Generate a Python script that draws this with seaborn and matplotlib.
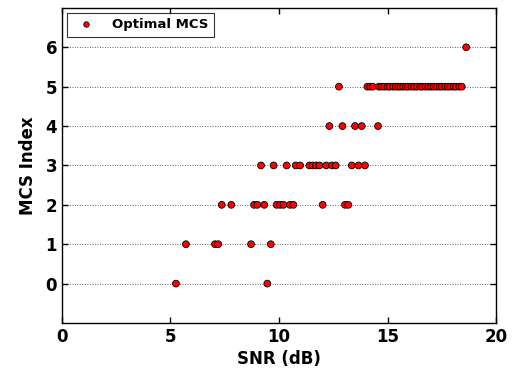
import matplotlib
matplotlib.use("Agg")
import matplotlib.pyplot as plt
import seaborn as sns
import pandas as pd

sns.set_theme(style="white")
plt.rcParams['font.family'] = ['DejaVu Sans']
plt.rcParams['text.color'] = 'black'
plt.rcParams['axes.labelcolor'] = 'black'
plt.rcParams['xtick.color'] = 'black'
plt.rcParams['ytick.color'] = 'black'

snr_mcs0 = [5.25, 9.46]
snr_mcs1 = [5.71, 7.05, 7.2, 8.71, 9.62]
snr_mcs2 = [7.36, 7.8, 8.85, 9.0, 9.32, 9.89, 10.05, 10.2, 10.5, 10.66, 12.01, 13.04, 13.19]
snr_mcs3 = [9.17, 9.75, 10.35, 10.77, 10.97, 11.4, 11.55, 11.7, 11.86, 12.17, 12.44, 12.61,
            13.35, 13.66, 13.96]
snr_mcs4 = [12.32, 12.92, 13.5, 13.81, 14.56]
snr_mcs5 = [12.76, 14.07, 14.2, 14.32, 14.6, 14.72, 14.85, 15.0, 15.1, 15.25, 15.38, 15.5,
            15.6, 15.72, 15.85, 15.95, 16.1, 16.22, 16.35, 16.5, 16.6, 16.75, 16.88, 17.0,
            17.12, 17.25, 17.4, 17.5, 17.65, 17.78, 17.9, 18.05, 18.15, 18.3, 18.42]
snr_mcs6 = [18.62]

groups = [snr_mcs0, snr_mcs1, snr_mcs2, snr_mcs3, snr_mcs4, snr_mcs5, snr_mcs6]
rows = []
for mcs, vals in enumerate(groups):
    for v in vals:
        rows.append({"SNR": v, "MCS": mcs, "label": "Optimal MCS"})
df = pd.DataFrame(rows)

fig = plt.figure(figsize=(5.12, 3.76), dpi=100)
ax = fig.add_axes([0.121, 0.141, 0.848, 0.838])

for y in range(0, 7):
    ax.axhline(y, color="#333333", linestyle=(0, (1, 2)), linewidth=0.6, zorder=0)

sns.scatterplot(data=df, x="SNR", y="MCS", hue="label", palette=["#ff0000"],
                s=24, edgecolor="black", linewidth=0.6, ax=ax, zorder=3)

ax.set_xlim(0, 20)
ax.set_ylim(-1, 7)
ax.set_xticks([0, 5, 10, 15, 20])
ax.set_yticks([0, 1, 2, 3, 4, 5, 6])
ax.tick_params(axis="both", direction="in", length=4, width=1, colors="black",
               labelsize=12, top=True, right=True, bottom=True, left=True)
for lbl in ax.get_xticklabels() + ax.get_yticklabels():
    lbl.set_fontweight("bold")
ax.set_xlabel("SNR (dB)", fontsize=12, fontweight="bold", labelpad=3, color="black")
ax.set_ylabel("MCS Index", fontsize=12, fontweight="bold", labelpad=6, color="black")
for sp in ax.spines.values():
    sp.set_color("black")
    sp.set_linewidth(1)

leg = ax.legend(loc="upper left", frameon=True, fancybox=False, edgecolor="black",
                prop={"weight": "bold", "size": 9.5}, borderaxespad=0.4,
                handletextpad=1.0, markerscale=0.8)
leg.get_frame().set_linewidth(0.8)
leg.set_title(None)
for t in leg.get_texts():
    t.set_color("black")

fig.savefig("out.png", dpi=100)
